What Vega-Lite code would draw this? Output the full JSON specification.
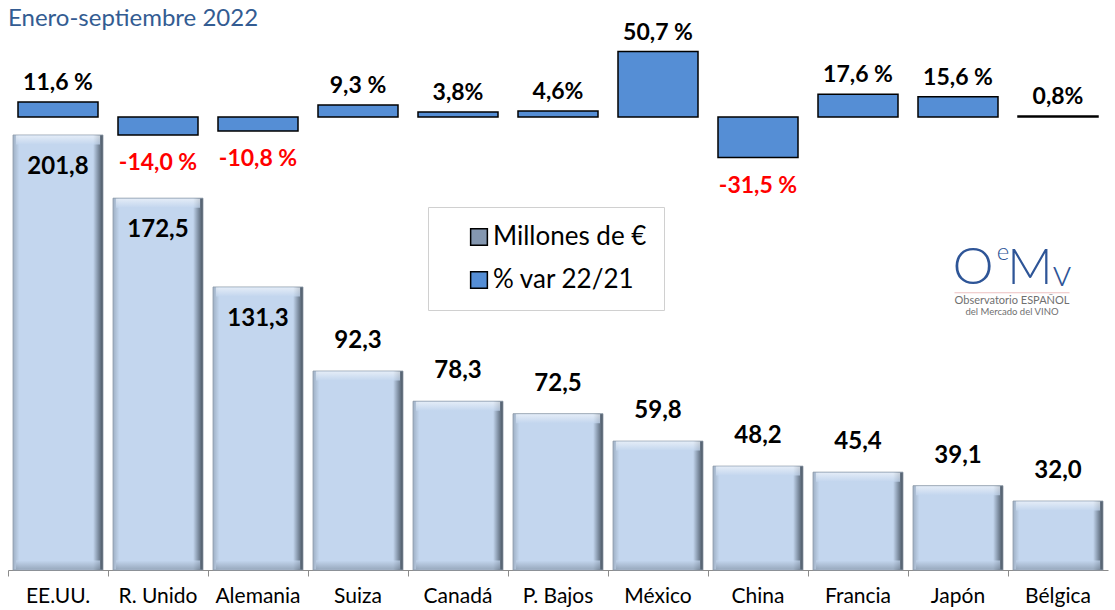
{
  "$schema": "https://vega.github.io/schema/vega-lite/v6.json",
  "width": 1100,
  "height": 540,
  "autosize": {"type": "none"},
  "padding": {"left": 8, "top": 30, "right": 7, "bottom": 40},
  "background": "white",
  "config": {
    "locale": {"number": {"decimal": ",", "thousands": ".", "grouping": [3], "currency": ["", " €"]}},
    "view": {"stroke": null},
    "font": "Lato"
  },
  "title": {"text": "Enero-septiembre 2022", "anchor": "start", "frame": "group", "offset": 4, "dy": 13, "fontSize": 24, "font": "Lato", "fontWeight": "normal", "color": "#335C92"},
  "data": {"values": [
    {"country": "EE.UU.", "value": 201.8, "pct": 11.6, "pctLabel": "11,6 %"},
    {"country": "R. Unido", "value": 172.5, "pct": -14.0, "pctLabel": "-14,0 %"},
    {"country": "Alemania", "value": 131.3, "pct": -10.8, "pctLabel": "-10,8 %"},
    {"country": "Suiza", "value": 92.3, "pct": 9.3, "pctLabel": "9,3 %"},
    {"country": "Canadá", "value": 78.3, "pct": 3.8, "pctLabel": "3,8%"},
    {"country": "P. Bajos", "value": 72.5, "pct": 4.6, "pctLabel": "4,6%"},
    {"country": "México", "value": 59.8, "pct": 50.7, "pctLabel": "50,7 %"},
    {"country": "China", "value": 48.2, "pct": -31.5, "pctLabel": "-31,5 %"},
    {"country": "Francia", "value": 45.4, "pct": 17.6, "pctLabel": "17,6 %"},
    {"country": "Japón", "value": 39.1, "pct": 15.6, "pctLabel": "15,6 %"},
    {"country": "Bélgica", "value": 32.0, "pct": 0.8, "pctLabel": "0,8%"}
  ]},
  "encoding": {
    "x": {
      "field": "country", "type": "nominal", "sort": null,
      "scale": {"paddingInner": 0, "paddingOuter": 0},
      "axis": {"title": null, "labelAngle": 0, "labelFontSize": 21, "labelFont": "Lato", "labelColor": "black", "labelPadding": 9, "tickSize": 6, "tickColor": "#8C8C8C", "domainColor": "#8C8C8C", "bandPosition": 0, "grid": false, "orient": "bottom"}
    }
  },
  "resolve": {"scale": {"y": "independent"}},
  "layer": [
    {
      "encoding": {
        "y": {"field": "value", "type": "quantitative", "scale": {"domain": [0, 250.5], "nice": false}, "axis": null}
      },
      "layer": [
        {
          "mark": {"type": "bar", "width": {"band": 0.9}},
          "encoding": {
            "color": {
              "datum": "Millones de €", "type": "nominal",
              "scale": {"domain": ["Millones de €", "% var 22/21"], "range": ["#8497B0", "#558ED5"]},
              "legend": {"orient": "none", "legendX": 420, "legendY": 177, "title": null, "fillColor": "white", "strokeColor": "#D0D0D0", "padding": 17, "symbolType": "square", "symbolSize": 280, "symbolStrokeColor": "black", "symbolStrokeWidth": 1.5, "labelFontSize": 26, "labelFont": "Lato", "labelColor": "black", "rowPadding": 17, "symbolOffset": 21, "labelOffset": 1, "labelLimit": 400}
            }
          }
        },
        {
          "mark": {"type": "bar", "width": {"band": 0.9}, "stroke": "#8E9AA8", "strokeWidth": 0.8,
            "color": {"gradient": "linear", "x1": 0, "x2": 1, "y1": 0, "y2": 0, "stops": [
              {"offset": 0, "color": "#9FB0C4"}, {"offset": 0.07, "color": "#C3D6EE"}, {"offset": 0.89, "color": "#C3D6EE"}, {"offset": 0.95, "color": "#7D8DA0"}, {"offset": 1, "color": "#46525F"}]}}
        },
        {
          "mark": {"type": "tick", "orient": "horizontal", "thickness": 9, "size": 84, "yOffset": 5,
            "color": {"gradient": "linear", "x1": 0, "x2": 0, "y1": 0, "y2": 1, "stops": [{"offset": 0, "color": "#F2F6FB"}, {"offset": 1, "color": "#C3D6EE"}]}}
        },
        {
          "mark": {"type": "tick", "orient": "horizontal", "thickness": 9, "size": 84, "yOffset": -5,
            "color": {"gradient": "linear", "x1": 0, "x2": 0, "y1": 0, "y2": 1, "stops": [{"offset": 0, "color": "#C3D6EE"}, {"offset": 1, "color": "#8797AA"}]}},
          "encoding": {"y": {"datum": 0}}
        },
        {
          "transform": [{"filter": "datum.value > 100"}],
          "mark": {"type": "text", "fontSize": 24, "fontWeight": "bold", "font": "Lato", "baseline": "middle", "dy": 32, "color": "black"},
          "encoding": {"text": {"field": "value", "type": "quantitative", "format": ".1f"}}
        },
        {
          "transform": [{"filter": "datum.value <= 100"}],
          "mark": {"type": "text", "fontSize": 24, "fontWeight": "bold", "font": "Lato", "baseline": "middle", "dy": -30, "color": "black"},
          "encoding": {"text": {"field": "value", "type": "quantitative", "format": ".1f"}}
        },
        {
          "transform": [{"filter": "datum.country == 'Bélgica'"}],
          "mark": {"type": "text", "text": "O", "fontSize": 52, "fontWeight": 300, "font": "Lato", "baseline": "middle", "dx": -85, "color": "#2E5597"},
          "encoding": {"y": {"datum": 140}}
        },
        {
          "transform": [{"filter": "datum.country == 'Bélgica'"}],
          "mark": {"type": "text", "text": "e", "fontSize": 24, "fontWeight": 300, "font": "Lato", "baseline": "middle", "dx": -55, "color": "#2E5597"},
          "encoding": {"y": {"datum": 147}}
        },
        {
          "transform": [{"filter": "datum.country == 'Bélgica'"}],
          "mark": {"type": "text", "text": "M", "fontSize": 50, "fontWeight": 300, "font": "Lato", "baseline": "middle", "dx": -28, "color": "#2E5597"},
          "encoding": {"y": {"datum": 139.5}}
        },
        {
          "transform": [{"filter": "datum.country == 'Bélgica'"}],
          "mark": {"type": "text", "text": "v", "fontSize": 38, "fontWeight": 300, "font": "Lato", "baseline": "middle", "dx": 4, "color": "#2E5597"},
          "encoding": {"y": {"datum": 137}}
        },
        {
          "transform": [{"filter": "datum.country == 'Bélgica'"}],
          "mark": {"type": "tick", "orient": "horizontal", "thickness": 1, "size": 115, "xOffset": -46, "color": "#E6A5A5"},
          "encoding": {"y": {"datum": 128.6}}
        },
        {
          "transform": [{"filter": "datum.country == 'Bélgica'"}],
          "mark": {"type": "text", "text": "Observatorio ESPAÑOL", "fontSize": 11, "font": "Lato", "baseline": "middle", "dx": -46, "color": "#707070"},
          "encoding": {"y": {"datum": 124.6}}
        },
        {
          "transform": [{"filter": "datum.country == 'Bélgica'"}],
          "mark": {"type": "text", "text": "del Mercado del VINO", "fontSize": 9.5, "font": "Lato", "baseline": "middle", "dx": -46, "color": "#707070"},
          "encoding": {"y": {"datum": 119.5}}
        }
      ]
    },
    {
      "encoding": {
        "y": {"field": "pct", "type": "quantitative", "scale": {"domain": [-351.2, 67.4], "nice": false}, "axis": null}
      },
      "layer": [
        {
          "mark": {"type": "bar", "width": {"band": 0.8}, "stroke": "black", "strokeWidth": 1.5},
          "encoding": {
            "y2": {"datum": 0},
            "color": {"datum": "% var 22/21", "type": "nominal"}
          }
        },
        {
          "transform": [{"filter": "datum.pct >= 0"}],
          "mark": {"type": "text", "fontSize": 23, "fontWeight": "bold", "font": "Lato", "baseline": "bottom", "dy": -7, "color": "black"},
          "encoding": {"text": {"field": "pctLabel", "type": "nominal"}}
        },
        {
          "transform": [{"filter": "datum.pct < 0"}],
          "mark": {"type": "text", "fontSize": 23, "fontWeight": "bold", "font": "Lato", "baseline": "top", "dy": 17, "color": "#FF0000"},
          "encoding": {"text": {"field": "pctLabel", "type": "nominal"}}
        }
      ]
    }
  ]
}
